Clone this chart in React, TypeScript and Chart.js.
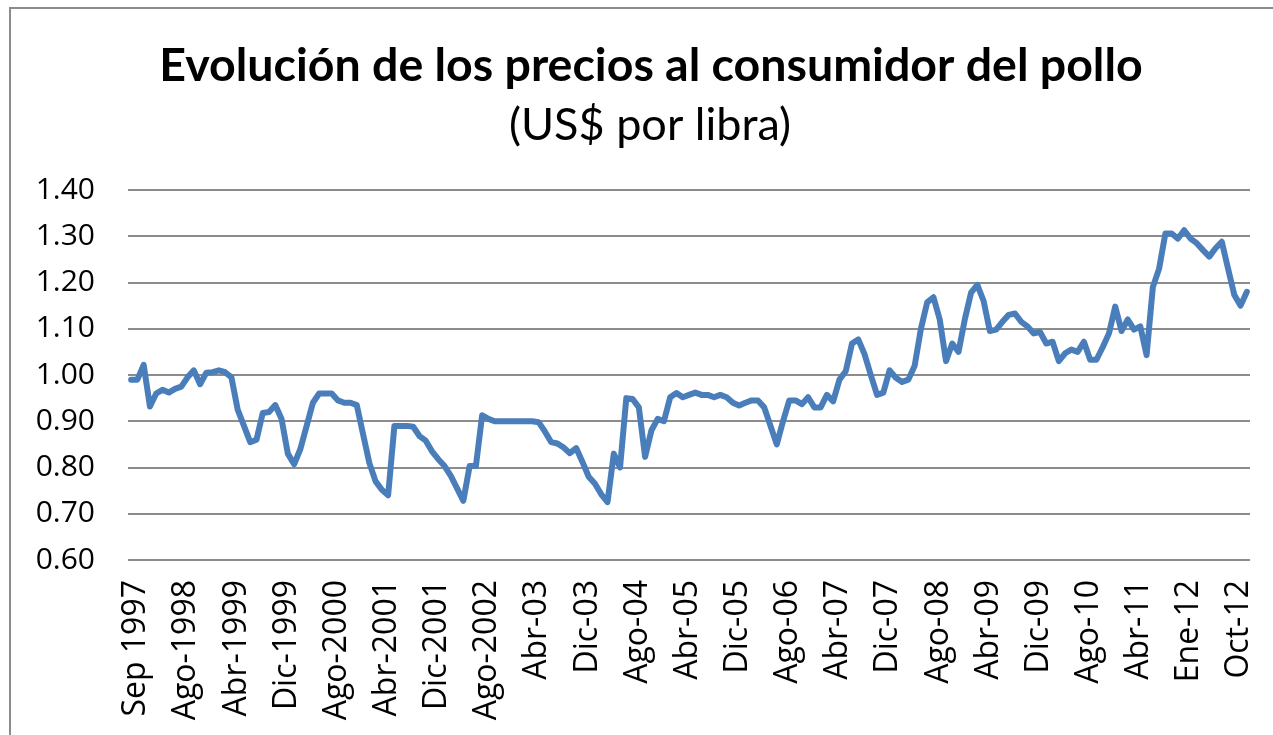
import React, { useEffect, useRef } from "react";
import { Chart, registerables } from "chart.js";

Chart.register(...registerables);

const titleText = "Evolución de los precios al consumidor del pollo";
const subtitleText = "(US$ por libra)";

const categories = [
  "Sep 1997", "Oct-1997", "Dic-1997", "Feb-1998", "Abr-1998", "May-1998", "Jun-1998", "Jul-1998",
  "Ago-1998", "Sep-1998", "Oct-1998", "Nov-1998", "Dic-1998",
  "Ene-1999", "Feb-1999", "Mar-1999", "Abr-1999", "May-1999", "Jun-1999", "Jul-1999", "Ago-1999", "Sep-1999", "Oct-1999", "Nov-1999", "Dic-1999",
  "Ene-2000", "Feb-2000", "Mar-2000", "Abr-2000", "May-2000", "Jun-2000", "Jul-2000", "Ago-2000", "Sep-2000", "Oct-2000", "Nov-2000", "Dic-2000",
  "Ene-2001", "Feb-2001", "Mar-2001", "Abr-2001", "May-2001", "Jun-2001", "Jul-2001", "Ago-2001", "Sep-2001", "Oct-2001", "Nov-2001", "Dic-2001",
  "Ene-2002", "Feb-2002", "Mar-2002", "Abr-2002", "May-2002", "Jun-2002", "Jul-2002", "Ago-2002", "Sep-2002", "Oct-2002", "Nov-2002", "Dic-2002",
  "Ene-03", "Feb-03", "Mar-03", "Abr-03", "May-03", "Jun-03", "Jul-03", "Ago-03", "Sep-03", "Oct-03", "Nov-03", "Dic-03",
  "Ene-04", "Feb-04", "Mar-04", "Abr-04", "May-04", "Jun-04", "Jul-04", "Ago-04", "Sep-04", "Oct-04", "Nov-04", "Dic-04",
  "Ene-05", "Feb-05", "Mar-05", "Abr-05", "May-05", "Jun-05", "Jul-05", "Ago-05", "Sep-05", "Oct-05", "Nov-05", "Dic-05",
  "Ene-06", "Feb-06", "Mar-06", "Abr-06", "May-06", "Jun-06", "Jul-06", "Ago-06", "Sep-06", "Oct-06", "Nov-06", "Dic-06",
  "Ene-07", "Feb-07", "Mar-07", "Abr-07", "May-07", "Jun-07", "Jul-07", "Ago-07", "Sep-07", "Oct-07", "Nov-07", "Dic-07",
  "Ene-08", "Feb-08", "Mar-08", "Abr-08", "May-08", "Jun-08", "Jul-08", "Ago-08", "Sep-08", "Oct-08", "Nov-08", "Dic-08",
  "Ene-09", "Feb-09", "Mar-09", "Abr-09", "May-09", "Jun-09", "Jul-09", "Ago-09", "Sep-09", "Oct-09", "Nov-09", "Dic-09",
  "Ene-10", "Feb-10", "Mar-10", "Abr-10", "May-10", "Jun-10", "Jul-10", "Ago-10", "Sep-10", "Oct-10", "Nov-10", "Dic-10",
  "Ene-11", "Feb-11", "Mar-11", "Abr-11", "May-11", "Jun-11", "Jul-11", "Sep-11", "Oct-11", "Nov-11", "Dic-11",
  "Ene-12", "Feb-12", "Mar-12", "Abr-12", "May-12", "Jun-12", "Jul-12", "Sep-12", "Oct-12", "Nov-12", "Dic-12",
];

const prices = [
  0.99, 0.99, 1.022, 0.932, 0.96, 0.968, 0.962, 0.97,
  0.975, 0.995, 1.01, 0.98, 1.005,
  1.006, 1.01, 1.006, 0.995, 0.925, 0.89, 0.855, 0.86, 0.918, 0.92, 0.935, 0.905,
  0.83, 0.807, 0.84, 0.89, 0.94, 0.96, 0.96, 0.96, 0.945, 0.94, 0.94, 0.935,
  0.872, 0.81, 0.77, 0.752, 0.74, 0.89, 0.89, 0.89, 0.888, 0.868, 0.858, 0.835,
  0.818, 0.803, 0.782, 0.755, 0.728, 0.803, 0.803, 0.913, 0.905, 0.9, 0.9, 0.9,
  0.9, 0.9, 0.9, 0.9, 0.898, 0.878, 0.855, 0.852, 0.843, 0.831, 0.842, 0.812,
  0.78, 0.765, 0.742, 0.725, 0.83, 0.8, 0.95, 0.948, 0.93, 0.823, 0.88, 0.905,
  0.9, 0.952, 0.961, 0.952, 0.957, 0.962, 0.957, 0.957, 0.952, 0.957, 0.952, 0.94,
  0.934, 0.94, 0.945, 0.945, 0.93, 0.89, 0.85, 0.9, 0.945, 0.945, 0.937, 0.952,
  0.93, 0.93, 0.957, 0.943, 0.99, 1.008, 1.068, 1.077, 1.045, 1.0, 0.957, 0.962,
  1.01, 0.994, 0.985, 0.99, 1.02, 1.1, 1.157, 1.168, 1.12, 1.03, 1.068, 1.05,
  1.12, 1.178, 1.195, 1.16, 1.095, 1.098, 1.115, 1.13, 1.133, 1.115, 1.105, 1.09,
  1.093, 1.068, 1.072, 1.03, 1.047, 1.055, 1.05, 1.072, 1.033, 1.033, 1.06, 1.09,
  1.148, 1.095, 1.12, 1.098, 1.105, 1.043, 1.19, 1.23, 1.306, 1.306, 1.295,
  1.313, 1.295, 1.285, 1.27, 1.256, 1.274, 1.288, 1.23, 1.173, 1.15, 1.18,
];

const yMin = 0.6;
const yMax = 1.4;
const yStep = 0.1;
const labelEvery = 8;

export default function App() {
  const canvasRef = useRef<HTMLCanvasElement | null>(null);

  useEffect(() => {
    if (!canvasRef.current) return;
    const titlesPlugin = {
      id: "titles",
      afterDraw(chart: any) {
        const ctx = chart.ctx as CanvasRenderingContext2D;
        ctx.save();
        ctx.fillStyle = "#000000";
        ctx.textAlign = "center";
        ctx.textBaseline = "alphabetic";
        ctx.font = "bold 46.5px Lato, 'Open Sans', sans-serif";
        ctx.fillText(titleText, 651, 81);
        ctx.font = "45px Lato, 'Open Sans', sans-serif";
        ctx.fillText(subtitleText, 650, 140);
        ctx.restore();
      },
    };

    const chart = new Chart(canvasRef.current, {
      type: "line",
      data: {
        labels: categories,
        datasets: [
          {
            data: prices,
            borderColor: "#4a7ebb",
            backgroundColor: "#4a7ebb",
            borderWidth: 6,
            pointRadius: 0,
            pointHoverRadius: 0,
            tension: 0,
            fill: false,
            borderJoinStyle: "round",
            borderCapStyle: "round",
          },
        ],
      },
      options: {
        animation: false,
        responsive: false,
        devicePixelRatio: 1,
        events: [],
        layout: { padding: { left: 0, right: 23, top: 190, bottom: 0 } },
        plugins: {
          legend: { display: false },
          tooltip: { enabled: false },
          title: { display: false },
        },
        scales: {
          x: {
            type: "category",
            offset: true,
            grid: { display: false },
            border: { display: false },
            ticks: {
              autoSkip: false,
              maxRotation: 90,
              minRotation: 90,
              padding: 12,
              labelOffset: 5,
              color: "#000000",
              font: { family: "'Open Sans'", size: 32 },
              callback: (_v: any, i: number) => (i % labelEvery === 0 ? categories[i] : ""),
            },
            afterFit: (s: any) => {
              s.height = 175;
              s.paddingLeft = 0;
              s.paddingRight = 0;
            },
          },
          y: {
            min: yMin,
            max: yMax,
            grid: { color: "#8c8c8c", lineWidth: 2, drawTicks: false },
            border: { display: false },
            ticks: {
              stepSize: yStep,
              padding: 33,
              color: "#000000",
              font: { family: "'Open Sans'", size: 30 },
              callback: (v: any) => Number(v).toFixed(2),
            },
            afterFit: (s: any) => {
              s.width = 128;
              s.paddingTop = 0;
              s.paddingBottom = 0;
            },
          },
        },
      },
      plugins: [titlesPlugin],
    });

    let alive = true;
    if ((document as any).fonts && (document as any).fonts.ready) {
      (document as any).fonts.ready.then(() => {
        if (alive) chart.update();
      });
    }
    return () => {
      alive = false;
      chart.destroy();
    };
  }, []);

  return (
    <div
      style={{
        position: "absolute",
        left: 0,
        top: 0,
        width: 1273,
        height: 735,
        overflow: "hidden",
        background: "#ffffff",
      }}
    >
      <div
        style={{
          position: "absolute",
          left: 9,
          top: 7,
          width: 1400,
          height: 1000,
          border: "2px solid #8c8c8c",
          boxSizing: "border-box",
        }}
      />
      <canvas
        ref={canvasRef}
        width={1273}
        height={735}
        style={{ position: "absolute", left: 0, top: 0, display: "block" }}
      />
    </div>
  );
}
